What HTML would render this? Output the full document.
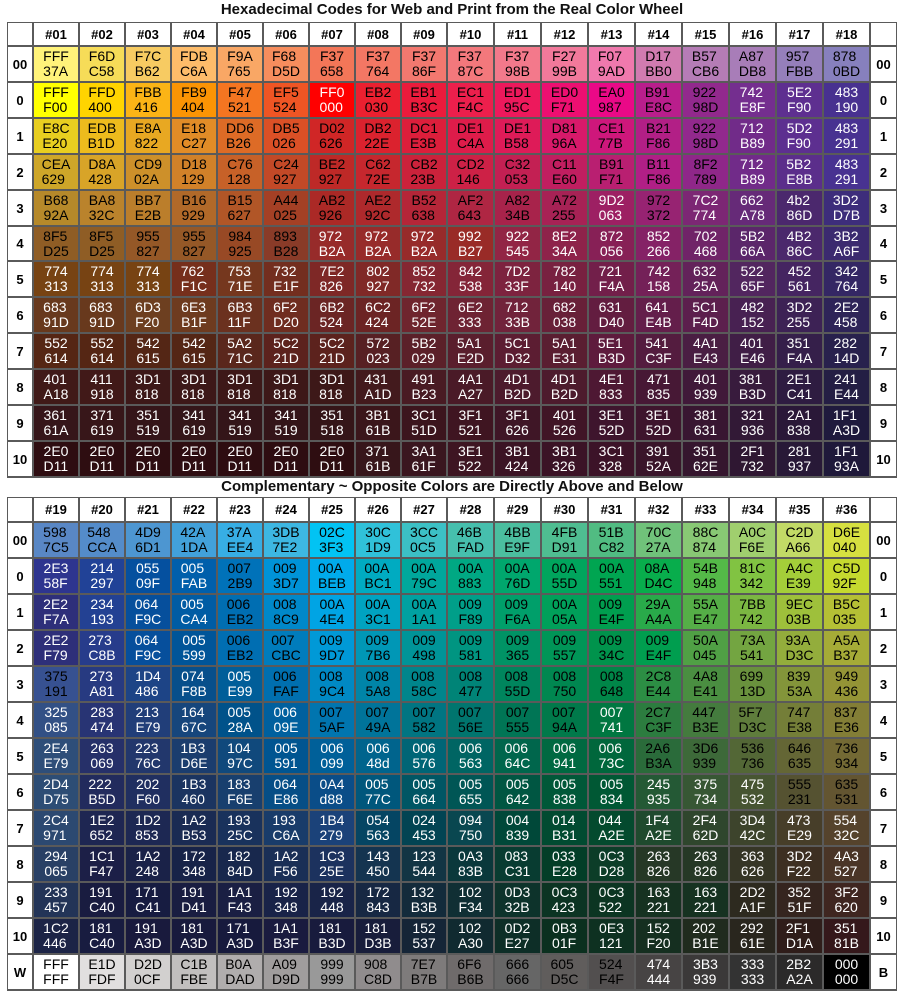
<!DOCTYPE html>
<html><head><meta charset="utf-8">
<style>
html,body{margin:0;padding:0;background:#fff;}
body{width:904px;height:998px;position:relative;overflow:hidden;font-family:"Liberation Sans",Arial,sans-serif;}
.title{position:absolute;left:0;width:904px;text-align:center;font-weight:bold;font-size:15px;color:#111;}
.grid{position:absolute;background:#5a5a5a;}
.c{position:absolute;box-sizing:border-box;display:flex;flex-direction:column;justify-content:center;align-items:center;font-size:14px;line-height:15px;}
.lab{background:#fff;color:#000;font-weight:bold;font-size:13px;}
</style></head>
<body>
<div class="title" style="top:1px;">Hexadecimal Codes for Web and Print from the Real Color Wheel</div>
<div class="title" style="top:478px;">Complementary ~ Opposite Colors are Directly Above and Below</div>
<div id="t1" class="grid"></div>
<div id="t2" class="grid"></div>
<script>
const colLabels1=["#01","#02","#03","#04","#05","#06","#07","#08","#09","#10","#11","#12","#13","#14","#15","#16","#17","#18"];
const colLabels2=["#19","#20","#21","#22","#23","#24","#25","#26","#27","#28","#29","#30","#31","#32","#33","#34","#35","#36"];
const rowLabels1L=["00","0","1","2","3","4","5","6","7","8","9","10"];
const rowLabels1R=["00","0","1","2","3","4","5","6","7","8","9","10"];
const rowLabels2L=["00","0","1","2","3","4","5","6","7","8","9","10","W"];
const rowLabels2R=["00","0","1","2","3","4","5","6","7","8","9","10","B"];
const colors1=[
["FFF37A","F6DC58","F7CB62","FDBC6A","F9A765","F68D5D","F37658","F37764","F3786F","F3787C","F3798B","F2799B","F079AD","D17BB0","B57CB6","A87DB8","957FBB","8780BD"],
["FFFF00","FFD400","FBB416","FB9404","F47521","EF5524","FF0000","EB2030","EB1B3C","EC1F4C","ED195C","ED0F71","EA0987","B91E8C","92298D","742E8F","5E2F90","483190"],
["E8CE20","EDBB1D","E8A822","E18C27","DD6B26","DB5026","D02626","DB222E","DC1E3B","DE1C4A","DE1B58","D8196A","CE177B","B21F86","92298D","712B89","5D2F90","483291"],
["CEA629","D8A428","CD902A","D18129","C76128","C24927","BE2927","C6272E","CB223B","CD2146","C32053","C11E60","B91F71","B11F86","8F2789","712B89","5B2E8B","483291"],
["B6892A","BA832C","BB7E2B","B16929","B15627","A44025","AB2926","AE292C","B52638","AF2643","A8234B","A72255","9D2063","972372","7C2774","662A78","4b286D","3D2D7B"],
["8F5D25","8F5D25","955827","955827","984925","893B28","972B2A","972B2A","972B2A","992B27","922545","8E234A","872056","852266","702468","5B266A","4B286C","3B2A6F"],
["774313","774313","774313","762F1C","75371E","732E1F","7E2826","802927","852732","842538","7D233F","782140","721F4A","742158","63225A","52265F","452561","342764"],
["68391D","68391D","6D3F20","6E3B1F","6B311F","6F2D20","6B2524","6C2424","6F252E","6E2333","71233B","682038","631D40","641E4B","5C1F4D","482152","3D2255","2E2458"],
["552614","552614","542615","542615","5A271C","5C221D","5C221D","572023","5B2029","5A1E2D","5C1D32","5A1E31","5E1B3D","541C3F","4A1E43","401E46","351F4A","28214D"],
["401A18","411918","3D1818","3D1818","3D1818","3D1818","3D1818","431A1D","491B23","4A1A27","4D1B2D","4D1B2D","4E1833","471835","401939","381B3D","2E1C41","241E44"],
["36161A","371619","351519","341619","341519","341519","351518","3B161B","3C151D","3F1521","3F1626","401526","3E152D","3E152D","381631","321936","2A1838","1F1A3D"],
["2E0D11","2E0D11","2E0D11","2E0D11","2E0D11","2E0D11","2E0D11","37161B","3A161F","3E1522","3B1424","3B1326","3C1328","39152A","35162E","2F1732","281937","1F193A"]];
const colors2=[
["5987C5","548CCA","4D96D1","42A1DA","37AEE4","3DB7E2","02C3F3","30C1D9","3CC0C5","46BFAD","4BBE9F","4FBD91","51BC82","70C27A","88C874","A0CF6E","C2DA66","D6E040"],
["2E358F","214297","05509F","005FAB","0072B9","0093D7","00ABEB","00ABC1","00A79C","00A883","00A76D","00A55D","00A551","08AD4C","54B948","81C342","A4CE39","C5D92F"],
["2E2F7A","234193","064F9C","005CA4","006EB2","0088C9","00A4E4","00A3C1","00A1A1","009F89","009F6A","00A05A","009E4F","29AA4A","55AE47","7BB742","9EC03B","B5C035"],
["2E2F79","273C8B","064F9C","005599","006EB2","007CBC","0099D7","0097B6","009498","009581","009365","009557","00934C","009E4F","50A045","73A541","93AD3C","A5AB37"],
["375191","273A81","1D4486","074F8B","005E99","006FAF","0089C4","0085A8","00858C","008477","00855D","008750","008648","2C8E44","4A8E41","69913D","83953A","949436"],
["325085","283474","213E79","16467C","00528A","00609E","0075AF","00749A","007582","00756E","007555","00794A","007741","2C7C3F","447B3E","5F7D3C","747E38","837E36"],
["2E4E79","263069","22376C","1B3D6E","10497C","005591","006099","00648d","006576","006563","00664C","006941","00673C","2A6B3A","3D6939","536736","646635","736934"],
["2D4D75","222B5D","202F60","1B3460","183F6E","064E86","0A4d88","00577C","005664","005655","005642","005838","005834","245935","375734","475532","555231","635531"],
["2C4971","1E2652","1D2853","1A2B53","19325C","193C6A","1B4279","054563","024453","094750","004839","014B31","044A2E","1F4A2E","2F462D","3D442C","473E29","55432C"],
["294065","1C1F47","1A2248","172348","18284D","1A2F56","1C325E","143450","123544","0A383B","083C31","033E28","0C3D28","263826","263826","363626","3D2F22","4A3527"],
["233457","191C40","171C41","191D41","1A1F43","192348","192448","172843","132B3B","102F34","0D332B","0C3423","0C3522","163221","163221","2D2A1F","35251F","3F2620"],
["1C2446","181C40","191A3D","181A3D","171A3D","1A1B3F","181B3D","181D3B","152537","102A30","0D2E27","0B301F","0E3121","152F20","202B1E","29261E","2F1D1A","35181B"],
["FFFFFF","E1DFDF","D2D0CF","C1BFBE","B0ADAD","A09D9D","999999","908C8D","7E7B7B","6F6B6B","666666","605D5C","524F4F","474444","3B3939","333333","2B2A2A","000000"]];

const X0=7;
function colX(i){return i<9?33+46*i:447+47*(i-9);}
function colW(i){return i<9?46:47;}
function textColor(hex){
  const r=parseInt(hex.slice(0,2),16),g=parseInt(hex.slice(2,4),16),b=parseInt(hex.slice(4,6),16);
  if(hex.toUpperCase()==="FF0000")return "#fff";
  return (0.299*r+0.587*g+0.114*b)<78?"#fff":"#000";
}
function addCell(parent,x,y,w,h,cls,html,bg,fg){
  const d=document.createElement('div');
  d.className='c '+cls;
  d.style.left=(x+1)+'px';d.style.top=(y+1)+'px';
  d.style.width=(w-2)+'px';d.style.height=(h-2)+'px';
  if(bg)d.style.background=bg;
  if(fg)d.style.color=fg;
  d.innerHTML=html;
  parent.appendChild(d);
  return d;
}
function build(id,top,headH,rowH,cols,rowsL,rowsR,colors){
  const t=document.getElementById(id);
  const nRows=colors.length;
  const height=headH+rowH*nRows;
  t.style.left=X0+'px';t.style.top=top+'px';
  t.style.width=(897-X0)+'px';t.style.height=(height+1)+'px';
  let e=addCell(t,0,0,26,headH,'lab','',null,null);
  
  
  e=addCell(t,863,0,27,headH,'lab','',null,null);
  
  
  cols.forEach((c,i)=>{
    const h=addCell(t,colX(i)-X0,0,colW(i),headH,'lab',c,null,null);
    
    
  });
  colors.forEach((row,r)=>{
    const y=headH+rowH*r;
    const yy=Math.round(y),hh=Math.round(y+rowH)-yy;
    const l=addCell(t,0,yy,26,hh,'lab',rowsL[r],null,null);
    
    
    const rr=addCell(t,863,yy,27,hh,'lab',rowsR[r],null,null);
    
    
    row.forEach((hex,i)=>{
      const cell=addCell(t,colX(i)-X0,yy,colW(i),hh,'',hex.slice(0,3)+'<br>'+hex.slice(3),'#'+hex,textColor(hex));
      
      
    });
  });
}
build('t1',22,24,35.9,colLabels1,rowLabels1L,rowLabels1R,colors1);
build('t2',497,25,36,colLabels2,rowLabels2L,rowLabels2R,colors2);
</script>
</body></html>
